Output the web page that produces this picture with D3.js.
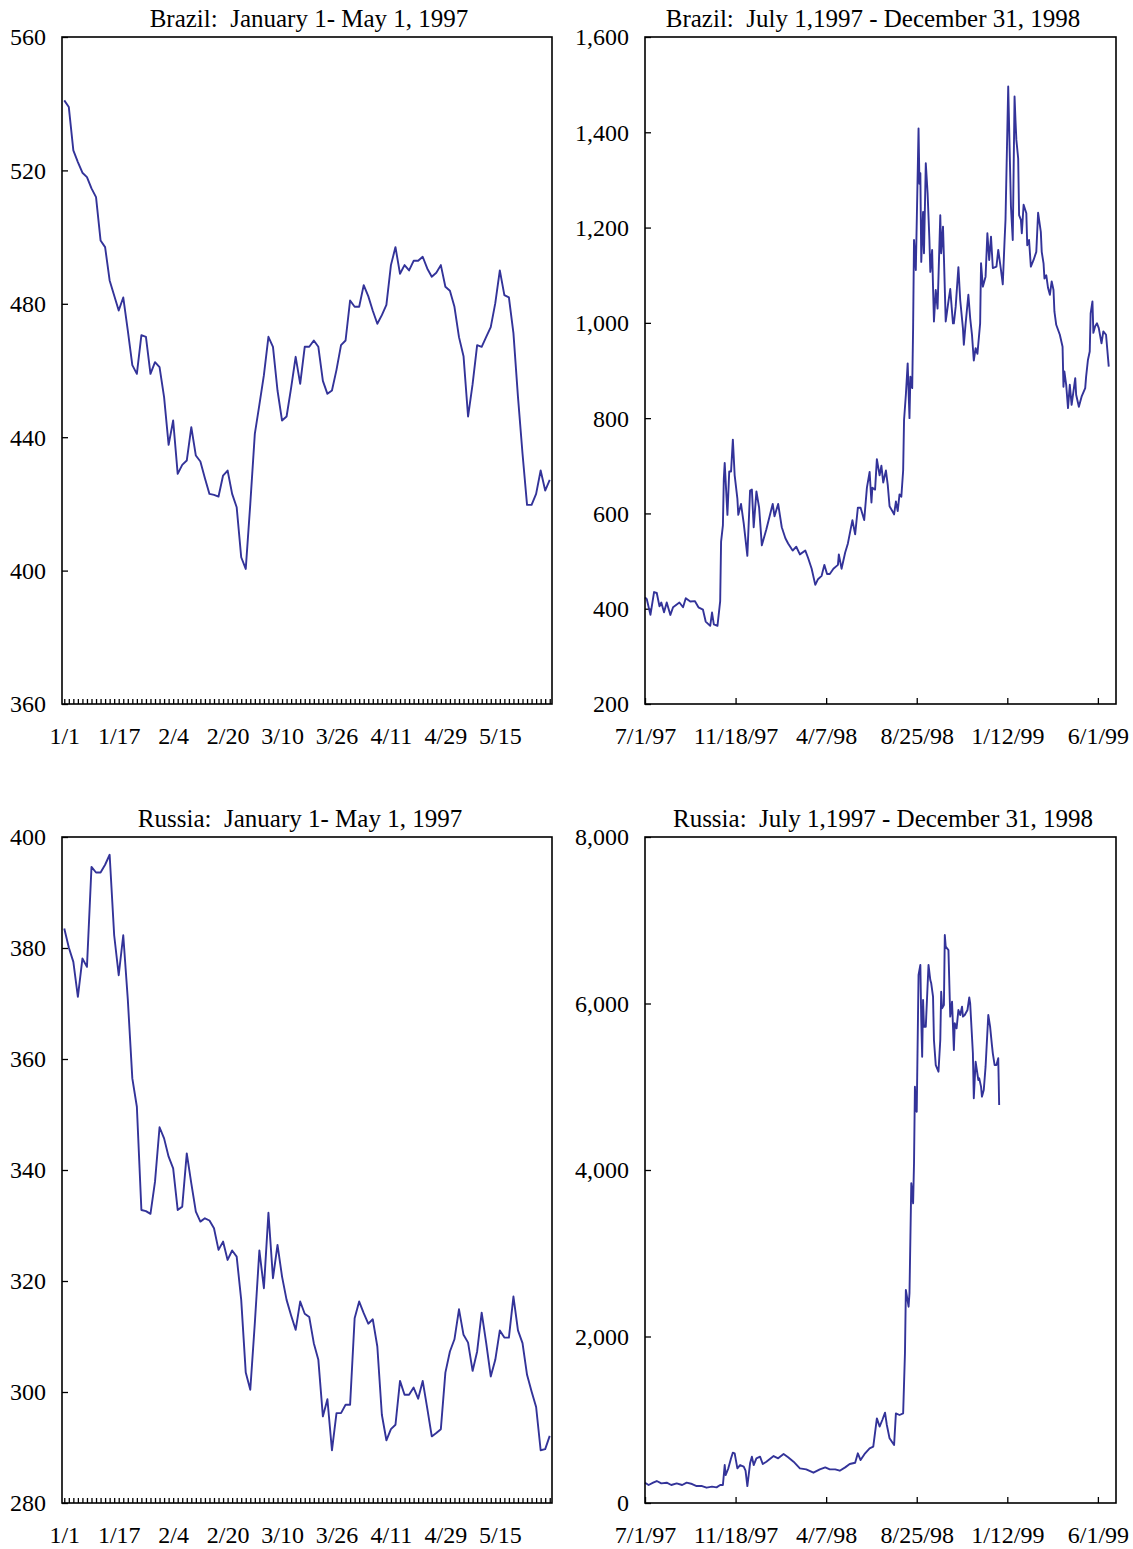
<!DOCTYPE html>
<html>
<head>
<meta charset="utf-8">
<script src="https://cdn.jsdelivr.net/npm/d3@7"></script>
<style>
  html, body { margin: 0; padding: 0; background: #fff; }
  svg { display: block; }
  text { font-family: "Liberation Serif", "Times New Roman", Times, serif; fill: #000; }
</style>
</head>
<body>
<svg id="chart" width="1133" height="1549"></svg>
<script>
// ---------- DATA ----------
// Short window (business days from Jan 1, 1997), labels every 12 days
const shortTickLabels = ["1/1", "1/17", "2/4", "2/20", "3/10", "3/26", "4/11", "4/29", "5/15"];
const shortTickEvery = 12;

const brazilShort = [
  541, 539, 526, 522.5, 519.3, 518, 514.6, 512, 499, 497,
  487, 482.5, 478, 481.9, 472, 461.6, 459, 470.6, 470.1, 459,
  462.5, 461, 452, 437.7, 445, 429, 431.7, 433, 443, 434.5,
  432.7, 427.7, 423, 422.7, 422.2, 428.5, 430, 423, 419, 404,
  400.5, 420, 441, 449.7, 458.6, 470.1, 467.1, 454, 445, 446.2,
  454.8, 464.1, 456, 467.1, 467.1, 469, 467.1, 456.9, 453, 454,
  460.2, 467.6, 469, 481, 479.1, 479.1, 485.6, 482.3, 477.9, 474,
  476.6, 479.7, 491.6, 497, 489, 491.6, 490, 492.9, 492.9, 494.1,
  490.6, 488.1, 489.3, 491.6, 485.1, 483.9, 479.1, 470, 464.3, 446.2,
  455.9, 467.6, 467.1, 470.1, 473, 480.2, 490, 482.6, 481.9, 471.2,
  452.1, 435.1, 419.7, 419.7, 423, 430, 424, 427.2
];

const russiaShort = [
  383.5, 380.1, 377.5, 371.2, 378.1, 376.6, 394.6, 393.6, 393.6, 395,
  396.8, 382.3, 375.1, 382.3, 370.8, 356.5, 351.4, 332.8, 332.6, 332.1,
  337.9, 347.7, 345.7, 342.4, 340.3, 332.8, 333.4, 343, 337.6, 332.5,
  330.7, 331.3, 330.9, 329.5, 325.6, 327.1, 323.8, 325.5, 324.4, 316.6,
  303.5, 300.4, 312.4, 325.5, 318.7, 332.3, 320.5, 326.5, 320.8, 316.6,
  313.8, 311.2, 316.3, 314.1, 313.5, 308.8, 305.8, 295.6, 298.7, 289.5,
  296.2, 296.2, 297.7, 297.7, 313.3, 316.3, 314.2, 312.3, 313.1, 308.2,
  295.9, 291.3, 293.3, 294.1, 302, 299.5, 299.5, 300.8, 298.8, 302,
  297.1, 292, 292.6, 293.3, 303.5, 307.3, 309.5, 314.9, 310.3, 308.9,
  303.8, 307.3, 314.3, 308.8, 302.8, 305.8, 311.1, 309.8, 309.8, 317.2,
  311.1, 308.8, 303.1, 300.1, 297.3, 289.5, 289.7, 292.1
];

// Long window (business days from Jul 1, 1997), labels every 100 days
const longTickLabels = ["7/1/97", "11/18/97", "4/7/98", "8/25/98", "1/12/99", "6/1/99"];
const longTickEvery = 100;
const longDayCount = 520;

// [business day, value]
const brazilLong = [
  [0,424],[2,420],[6,387],[10,435],[13,433],[16,405],[18,413],[21,392.5],[24,413],[28,387],
  [31,403],[38,413],[42,403],[45,422],[50,415],[55,416],[59,403],[64,398],[67,373],[72,364],
  [74,392],[76,367],[80,364],[83,416],[84,541],[86,575],[87,672],[88,706],[91,597],[93,688],
  [95,688],[97,755],[99,680],[102,631],[103,597],[106,620],[109,579],[113,511],[116,648],[118,650],
  [120,571],[123,646],[126,612],[129,533],[134,567],[141,620],[143,594],[147,620],[151,571],[155,548],
  [158,537],[163,522],[167,530],[171,514],[177,522],[180,507],[184,484],[188,450],[191,462],[195,469],
  [198,492],[201,473],[204,473],[208,484],[213,492],[214,514],[217,484],[221,518],[224,537],[229,586],
  [232,556],[235,612],[238,612],[242,586],[245,654],[248,687],[250,623],[251,654],[254,650],[256,714],
  [259,680],[261,700],[263,665],[266,690],[268,660],[270,615],[273,605],[275,598],[277,625],[279,605],
  [281,640],[283,635],[285,690],[286,796],[288,849],[290,915],[292,800],[293,887],[295,863],[296,989],
  [297,1174],[299,1111],[302,1408],[303,1292],[304,1314],[305,1128],[307,1233],[308,1146],[310,1335],[312,1272],
  [314,1174],[315,1107],[317,1153],[318,1076],[319,1003],[321,1069],[323,1030],[326,1226],[327,1146],[329,1202],
  [330,1139],[332,1003],[335,1045],[337,1071],[340,999],[341,999],[343,1034],[346,1117],[348,1048],[351,989],
  [352,954],[354,999],[357,1059],[359,1010],[361,975],[363,921],[365,947],[367,935],[370,999],[371,1125],
  [373,1076],[376,1097],[378,1188],[380,1132],[382,1181],[384,1115],[388,1118],[390,1153],[393,1111],[395,1081],
  [397,1174],[398,1216],[401,1496],[404,1245],[406,1174],[408,1475],[409,1426],[410,1384],[412,1345],[413,1226],
  [415,1216],[416,1188],[418,1248],[421,1230],[422,1163],[424,1174],[426,1118],[429,1132],[432,1149],[434,1231],
  [437,1191],[438,1149],[440,1125],[441,1093],[443,1100],[445,1073],[447,1059],[449,1087],[451,1069],[452,1024],
  [454,996],[458,975],[461,950],[462,866],[463,898],[465,870],[467,821],[469,870],[471,828],[475,884],
  [476,849],[479,824],[482,845],[486,863],[487,887],[489,922],[491,940],[492,1020],[494,1045],[495,979],
  [497,993],[499,999],[501,989],[504,957],[506,982],[509,975],[512,908]
];

const russiaLong = [
  [0,244],[4,216],[9,244],[13,264],[18,236],[24,244],[29,216],[35,236],[41,216],[46,244],
  [52,228],[57,204],[63,204],[68,184],[74,196],[79,188],[83,216],[86,216],[88,456],[89,336],
  [92,416],[95,537],[97,605],[99,597],[102,416],[105,456],[109,436],[111,388],[113,204],[116,477],
  [118,557],[120,456],[123,537],[127,557],[130,468],[134,496],[142,564],[147,537],[153,589],[158,549],
  [164,496],[171,416],[178,404],[186,364],[193,404],[199,428],[204,404],[210,404],[215,388],[221,428],
  [226,468],[232,484],[235,597],[238,516],[243,597],[248,657],[252,677],[256,1017],[259,918],[262,997],
  [265,1085],[267,937],[270,777],[275,697],[277,1077],[281,1057],[285,1077],[287,1798],[288,2559],[291,2358],
  [292,2519],[294,3840],[296,3600],[297,4080],[298,5001],[299,4721],[300,4700],[302,6342],[304,6463],[305,5802],
  [306,5361],[307,6042],[308,5721],[310,5721],[313,6463],[315,6282],[316,6242],[318,6082],[319,5562],[321,5261],
  [324,5181],[326,5562],[327,6142],[328,5942],[330,5982],[331,6823],[332,6682],[335,6642],[337,5842],[339,6022],
  [341,5442],[342,5762],[344,5702],[346,5922],[348,5862],[350,5962],[351,5842],[353,5862],[356,5922],[358,6074],
  [359,6002],[362,5402],[363,4861],[365,5301],[368,5081],[369,5101],[371,5001],[372,4881],[374,4961],[376,5241],
  [379,5862],[381,5722],[383,5502],[384,5402],[386,5261],[388,5261],[390,5342],[391,4781]
];

const titles = [
  "Brazil:  January 1- May 1, 1997",
  "Brazil:  July 1,1997 - December 31, 1998",
  "Russia:  January 1- May 1, 1997",
  "Russia:  July 1,1997 - December 31, 1998"
];
const yTicksBrazilShort = [360, 400, 440, 480, 520, 560];
const yTicksBrazilLong = [200, 400, 600, 800, 1000, 1200, 1400, 1600];
const yTicksRussiaShort = [280, 300, 320, 340, 360, 380, 400];
const yTicksRussiaLong = [0, 2000, 4000, 6000, 8000];

// ---------- DRAWING ----------
const svg = d3.select("#chart");
const LINE = "#333399";
const FS = 24;
const TITLE_FS = 25;

const panels = [
  { kind: "short", data: brazilShort, yTicks: yTicksBrazilShort, title: titles[0],
    left: 62, right: 552, top: 37, bottom: 704, titleX: 309 },
  { kind: "long", data: brazilLong, yTicks: yTicksBrazilLong, title: titles[1],
    left: 645, right: 1116, top: 37, bottom: 704, titleX: 873 },
  { kind: "short", data: russiaShort, yTicks: yTicksRussiaShort, title: titles[2],
    left: 62, right: 552, top: 837, bottom: 1503, titleX: 300 },
  { kind: "long", data: russiaLong, yTicks: yTicksRussiaLong, title: titles[3],
    left: 645, right: 1116, top: 837, bottom: 1503, titleX: 883 }
];

panels.forEach(p => {
  const g = svg.append("g");
  const y = d3.scaleLinear()
    .domain(d3.extent(p.yTicks))
    .range([p.bottom, p.top]);

  let x, xAxis, lineGen;
  if (p.kind === "short") {
    x = d3.scalePoint().domain(d3.range(p.data.length)).range([p.left, p.right]).padding(0.5);
    xAxis = d3.axisBottom(x)
      .tickValues(d3.range(p.data.length))
      .tickSize(-5)
      .tickPadding(23)
      .tickFormat(i => (i % shortTickEvery === 0 && shortTickLabels[i / shortTickEvery]) ? shortTickLabels[i / shortTickEvery] : "");
    lineGen = d3.line().x((d, i) => x(i)).y(d => y(d));
  } else {
    x = d3.scaleLinear().domain([0, longDayCount]).range([p.left, p.right]);
    xAxis = d3.axisBottom(x)
      .tickValues(longTickLabels.map((_, i) => i * longTickEvery))
      .tickSize(-6)
      .tickPadding(23)
      .tickFormat(d => longTickLabels[d / longTickEvery]);
    lineGen = d3.line().x(d => x(d[0])).y(d => y(d[1]));
  }

  const yAxis = d3.axisLeft(y)
    .tickValues(p.yTicks)
    .tickSize(-6)
    .tickPadding(16)
    .tickFormat(d3.format(","));

  const gx = g.append("g").attr("transform", `translate(0,${p.bottom})`).call(xAxis);
  const gy = g.append("g").attr("transform", `translate(${p.left},0)`).call(yAxis);
  [gx, gy].forEach(a => {
    a.select(".domain").remove();
    a.selectAll(".tick line").attr("stroke", "#000").attr("stroke-width", 1.3);
    a.selectAll("text")
      .attr("font-family", '"Liberation Serif", "Times New Roman", serif')
      .attr("font-size", FS)
      .attr("fill", "#000");
  });
  gy.selectAll("text").attr("dy", "0.33em");
  gx.selectAll("text").attr("dy", "0.71em");

  // data line
  g.append("path")
    .datum(p.data)
    .attr("fill", "none")
    .attr("stroke", LINE)
    .attr("stroke-width", 1.9)
    .attr("stroke-linejoin", "round")
    .attr("d", lineGen);

  // frame
  g.append("rect")
    .attr("x", p.left).attr("y", p.top)
    .attr("width", p.right - p.left).attr("height", p.bottom - p.top)
    .attr("fill", "none").attr("stroke", "#000").attr("stroke-width", 1.6);

  // title
  g.append("text")
    .attr("x", p.titleX)
    .attr("y", p.top - 10)
    .attr("text-anchor", "middle")
    .attr("font-size", TITLE_FS)
    .style("white-space", "pre")
    .attr("xml:space", "preserve")
    .text(p.title);
});
</script>
</body>
</html>
